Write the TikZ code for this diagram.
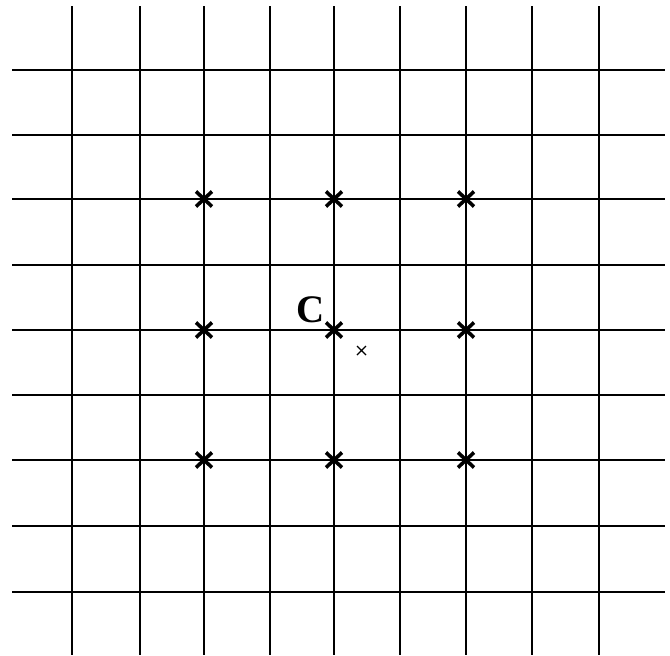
\documentclass[tikz,border=0pt]{standalone}
\usepackage{fontspec}
\setmainfont{Liberation Serif}
\begin{document}
\begin{tikzpicture}[x=1pt,y=-1pt,
  gridline/.style={line width=1.9pt,black},
  bigcross/.style={line width=3.6pt,black},
  smallcross/.style={line width=1.3pt,black},
  lbl/.style={inner sep=0pt,font=\fontsize{39}{39}\selectfont\bfseries}]
\useasboundingbox (0,0) rectangle (670,656);
% vertical lines
\foreach \x in {72,140,204,270,334,400,466,532,599}
  \draw[gridline] (\x,6) -- (\x,655);
% horizontal lines
\foreach \y in {70,135,199,265,330,395,460,526,592}
  \draw[gridline] (12,\y) -- (665,\y);
% big crosses
\foreach \x in {204,334,466}
  \foreach \y in {199,330,460}
    \draw[bigcross] (\x-8,\y-7.5) -- (\x+8,\y+7.5) (\x-8,\y+7.5) -- (\x+8,\y-7.5);
% small cross
\coordinate (s) at (361.5,350.5);
\draw[smallcross] ([shift={(-4.5,-4.5)}]s) -- ([shift={(4.5,4.5)}]s)
                  ([shift={(-4.5,4.5)}]s) -- ([shift={(4.5,-4.5)}]s);
% label
\node[lbl] (c) at (311,310) {C};
\end{tikzpicture}
\end{document}
